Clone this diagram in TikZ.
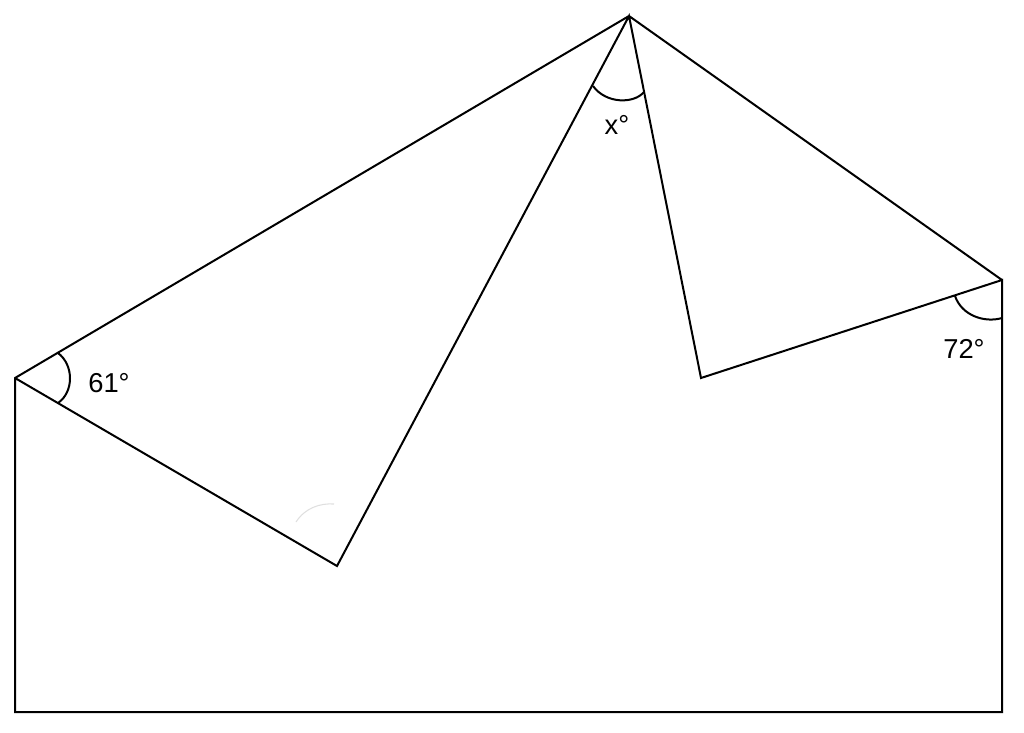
\documentclass[tikz,border=0pt]{standalone}
\usepackage{fontspec}
\setmainfont{Liberation Sans}
\begin{document}
\begin{tikzpicture}[x=0.75pt,y=-0.75pt,
  edge/.style={line width=1.5pt,line join=miter},
  arcmark/.style={line width=1.5pt},
  lbl/.style={font=\fontsize{20.5}{24}\selectfont,inner sep=0pt}]
\useasboundingbox (0,0) rectangle (1024,732);
\coordinate (T) at (629,16);
\coordinate (L) at (15,378);
\coordinate (BL) at (15,712);
\coordinate (BR) at (1002,712);
\coordinate (R) at (1002,280);
\coordinate (A) at (337,566);
\coordinate (B) at (701,378);
\draw[edge] (R) -- (T) -- (L) -- (BL) -- (BR) -- (R) -- (B) -- (T) -- (A) -- (L);
% angle marks
\draw[arcmark] (58,353) .. controls (74,365) and (74,392) .. (58,403);
\draw[arcmark] (593,86) .. controls (606,104) and (634,104) .. (644,92);
\draw[arcmark] (955,296) .. controls (962,316) and (985,323) .. (1002,318);
\draw[gray!25,line width=0.8pt] (296,522) .. controls (305,508) and (320,503) .. (334,504);
\node[lbl] (a61) at (109,383) {61°};
\node[lbl] (ax) at (617,125) {x°};
\node[lbl] (a72) at (964,349) {72°};
\end{tikzpicture}
\end{document}
